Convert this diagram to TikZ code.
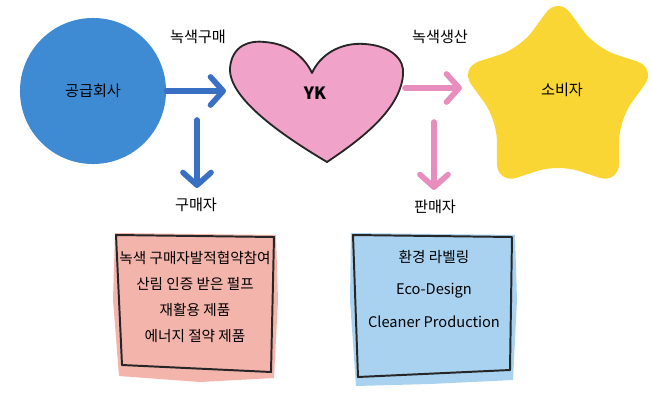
\documentclass[tikz,border=0pt]{standalone}
\usepackage{fontspec}
\setmainfont{Noto Sans CJK KR}
\usepackage{tikz}
\usetikzlibrary{arrows.meta, shapes.geometric, positioning}
\usepackage{xcolor}
\definecolor{colBlue}{RGB}{62, 139, 212}
\definecolor{colArrowBlue}{RGB}{58, 112, 196}
\definecolor{colPink}{RGB}{240, 162, 200}
\definecolor{colArrowPink}{RGB}{232, 142, 190}
\definecolor{colStar}{RGB}{249, 214, 52}
\definecolor{colBoxBuy}{RGB}{243, 180, 172}
\definecolor{colBoxSell}{RGB}{168, 210, 240}

\begin{document}
\begin{tikzpicture}[
  x=0.025cm, y=-0.025cm,
  lab/.style={font=\fontsize{10.8}{13}\selectfont, inner sep=1pt},
  boxtext/.style={font=\fontsize{10.4}{#1}\selectfont, align=center,
                  inner sep=0pt},
  flow/.style={line width=4pt, line cap=round, #1,
               -{Straight Barb[length=9pt, width=20pt, round]}},
  paper/.style={draw=black!85, line width=1.4pt, line join=round}
]
\useasboundingbox (0,0) rectangle (651,395);

% ---------- Acteurs ----------
\node[circle, fill=colBlue, minimum size=3.65cm, inner sep=0pt,
      font=\fontsize{10.8}{13}\selectfont] (sup) at (93,91) {공급회사};

% coeur (dessiné à la main)
\fill[colPink] (327,162)
  .. controls (290,140) and (228,100) .. (230,68)
  .. controls (232,45) and (250,40) .. (265,42)
  .. controls (290,44) and (305,58) .. (312,73)
  .. controls (320,55) and (340,42) .. (365,44)
  .. controls (392,46) and (405,60) .. (403,75)
  .. controls (400,110) and (360,140) .. (327,162) -- cycle;
\draw[black!85, line width=1.3pt, line join=round] (327,162)
  .. controls (290,140) and (228,100) .. (230,68)
  .. controls (232,45) and (250,40) .. (265,42)
  .. controls (290,44) and (305,58) .. (312,73)
  .. controls (320,55) and (340,42) .. (365,44)
  .. controls (392,46) and (405,60) .. (403,75)
  .. controls (400,110) and (360,140) .. (327,162) -- cycle;
\node[font=\fontsize{12}{14}\selectfont\bfseries] (yk) at (315,93) {YK};

% étoile
\node[star, star points=5, star point ratio=1.62, minimum size=5.2cm,
      fill=colStar, rounded corners=15pt] (star) at (558,100) {};
\node[lab] (cons) at (562,90) {소비자};

% ---------- Étiquettes ----------
\node[lab] (buyflow)  at (198,37)  {녹색구매};
\node[lab] (prodflow) at (440,37)  {녹색생산};
\node[lab] (buyer)    at (196,205) {구매자};
\node[lab] (seller)   at (435,207) {판매자};

% ---------- Flèches ----------
\coordinate (heartL) at (226,91);
\coordinate (heartR) at (405,88);
\coordinate (starL)  at (462,88);
\coordinate (downB)  at (197,120);
\coordinate (downP)  at (434,122);

\draw[flow=colArrowBlue] (sup.east) -- (heartL);
\draw[flow=colArrowBlue] (downB) -- ([yshift=6pt]buyer.north -| downB);
\draw[flow=colArrowPink] (heartR) -- (starL);
\draw[flow=colArrowPink] (downP) -- ([yshift=6pt]seller.north -| downP);

% ---------- Boîtes ----------
\fill[colBoxBuy] (115,233) -- (276,235) -- (278,300) -- (274,378)
  -- (200,382) -- (119,376) -- (113,300) -- cycle;
\draw[paper] (116,235) -- (274,237) -- (271,372) -- (122,365) -- cycle;
\node[boxtext=18.5pt] (buylist) at (195,297) {%
  녹색 구매자발적협약참여\\
  산림 인증 받은 펄프\\
  재활용 제품\\
  에너지 절약 제품};

\fill[colBoxSell] (351,233) -- (515,235) -- (517,300) -- (513,380)
  -- (430,384) -- (356,386) -- (350,300) -- cycle;
\draw[paper] (353,235) -- (512,237) -- (510,370) -- (358,377) -- cycle;
\node[boxtext=23.2pt] (selllist) at (434,289) {%
  환경 라벨링\\
  Eco-Design\\
  Cleaner Production};

\end{tikzpicture}
\end{document}
